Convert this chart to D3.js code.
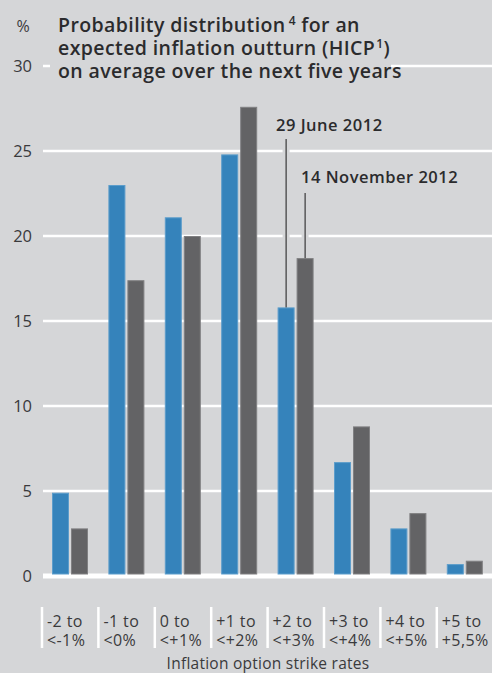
<!DOCTYPE html>
<html>
<head>
<meta charset="utf-8">
<script src="https://cdn.jsdelivr.net/npm/d3@7"></script>
<style>
  html, body { margin: 0; padding: 0; background: #d5d6d8; }
  svg { display: block; }
  text { font-family: "Open Sans", "Noto Sans", sans-serif; }
</style>
</head>
<body>
<svg id="chart" width="492" height="673"></svg>
<script>
// strike-rate buckets and the two survey dates
const categories = ["-2 to <-1%", "-1 to <0%", "0 to <+1%", "+1 to <+2%",
                    "+2 to <+3%", "+3 to <+4%", "+4 to <+5%", "+5 to +5,5%"];
const june2012 = [4.9, 23.0, 21.1, 24.8, 15.8, 6.7, 2.8, 0.7];
const nov2012  = [2.8, 17.4, 20.0, 27.6, 18.7, 8.8, 3.7, 0.9];
const seriesNames = ["29 June 2012", "14 November 2012"];
const yTicks = [0, 5, 10, 15, 20, 25, 30];

const bg = "#d5d6d8";
const colors = ["#3583bb", "#636365"];
const edges = ["#5c9dcb", "#808082"];

const svg = d3.select("#chart");

const x = d3.scaleBand().domain(categories).range([42, 493.2]);
const xInner = d3.scaleBand().domain(d3.range(2)).range([10, 46]).paddingInner(0.105);
const y = d3.scaleLinear().domain([0, 30]).range([576, 66]);

// gridlines
svg.append("g")
  .selectAll("line")
  .data(yTicks)
  .join("line")
  .attr("x1", 43).attr("x2", 492)
  .attr("y1", d => y(d)).attr("y2", d => y(d))
  .attr("stroke", "#fff")
  .attr("stroke-width", d => d === 0 ? 5 : 2.5);

// y tick labels
svg.append("g")
  .selectAll("text")
  .data(yTicks)
  .join("text")
  .attr("x", 32)
  .attr("y", d => y(d))
  .attr("dy", "0.36em")
  .attr("text-anchor", "end")
  .attr("font-size", 16.5)
  .attr("fill", "#3a3a3c")
  .text(d => d);

svg.append("text")
  .attr("x", 23).attr("y", 32)
  .attr("text-anchor", "middle")
  .attr("font-size", 16)
  .attr("fill", "#3a3a3c")
  .text("%");

// title with background box to break the 30 gridline
svg.append("rect")
  .attr("x", 50).attr("y", 12).attr("width", 341).attr("height", 76)
  .attr("fill", bg);

const title = svg.append("text")
  .attr("x", 58)
  .attr("font-size", 19.5)
  .attr("font-weight", 600)
  .attr("letter-spacing", 0.4)
  .attr("fill", "#2b2b2d");
const t1 = title.append("tspan").attr("x", 58).attr("y", 32);
t1.append("tspan").text("Probability distribution");
t1.append("tspan").attr("font-size", 12).attr("dy", -7).attr("dx", 3).text("4");
t1.append("tspan").attr("dy", 7).text(" for an");
const t2 = title.append("tspan").attr("x", 58).attr("y", 55);
t2.append("tspan").text("expected inflation outturn (HICP");
t2.append("tspan").attr("font-size", 12).attr("dy", -7).attr("dx", 1).text("1");
t2.append("tspan").attr("dy", 7).text(")");
title.append("tspan").attr("x", 58).attr("y", 78).text("on average over the next five years");

// bars
const groups = svg.append("g")
  .selectAll("g")
  .data(categories)
  .join("g")
  .attr("transform", d => `translate(${x(d)},0)`);

groups.selectAll("rect")
  .data((d, i) => [june2012[i], nov2012[i]])
  .join("rect")
  .attr("x", (d, j) => xInner(j) + 0.5)
  .attr("width", xInner.bandwidth() - 1)
  .attr("y", d => y(d) + 0.5)
  .attr("height", d => y(0) - 2.5 - y(d))
  .attr("fill", (d, j) => colors[j])
  .attr("stroke", (d, j) => edges[j])
  .attr("stroke-width", 1);

// leader lines for the series labels
const leaders = [
  {cat: 4, s: 0, top: 139, label: seriesNames[0], lx: 276, ly: 131},
  {cat: 4, s: 1, top: 193, label: seriesNames[1], lx: 301, ly: 183}
];
const vals = [june2012, nov2012];

leaders.forEach(l => {
  const lxPos = x(categories[l.cat]) + xInner(l.s) + xInner.bandwidth() / 2;
  svg.append("line")
    .attr("x1", lxPos).attr("x2", lxPos)
    .attr("y1", l.top).attr("y2", y(vals[l.s][l.cat]) - 1)
    .attr("stroke", bg).attr("stroke-width", 7);
  svg.append("line")
    .attr("x1", lxPos).attr("x2", lxPos)
    .attr("y1", l.top).attr("y2", y(vals[l.s][l.cat]))
    .attr("stroke", "#1a1a1a").attr("stroke-width", 1);
  svg.append("text")
    .attr("x", l.lx).attr("y", l.ly)
    .attr("font-size", 16.5)
    .attr("font-weight", 600)
    .attr("letter-spacing", 0.5)
    .attr("fill", "#2b2b2d")
    .text(l.label);
});

// category labels with white separators
const xl = svg.append("g")
  .selectAll("g")
  .data(categories)
  .join("g")
  .attr("transform", d => `translate(${x(d)},0)`);

xl.append("line")
  .attr("x1", 0).attr("x2", 0)
  .attr("y1", 607).attr("y2", 648)
  .attr("stroke", "#fff").attr("stroke-width", 2.5);

xl.append("text")
  .attr("font-size", 16)
  .attr("letter-spacing", 0.4)
  .attr("fill", "#3a3a3c")
  .selectAll("tspan")
  .data(d => {
    const k = d.indexOf(" ", d.indexOf("to"));
    return [d.slice(0, k), d.slice(k + 1)];
  })
  .join("tspan")
  .attr("x", (d, i, n) => 5)
  .attr("y", (d, i) => 627 + i * 19)
  .text(d => d);

svg.append("text")
  .attr("x", 268).attr("y", 668.5)
  .attr("text-anchor", "middle")
  .attr("font-size", 15.5)
  .attr("letter-spacing", 0.25)
  .attr("fill", "#3a3a3c")
  .text("Inflation option strike rates");
</script>
</body>
</html>
